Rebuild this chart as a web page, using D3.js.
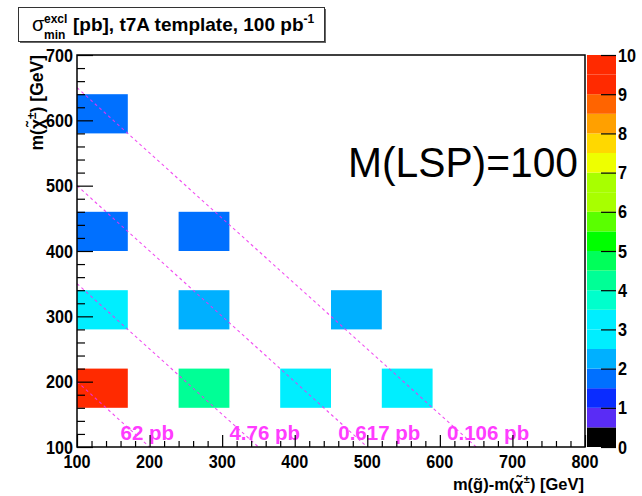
<!DOCTYPE html>
<html>
<head>
<meta charset="utf-8">
<script src="https://cdn.jsdelivr.net/npm/d3@7"></script>
<style>
  html, body { margin: 0; padding: 0; background: #fff; }
  svg { display: block; }
  text { font-family: "Liberation Sans", Arial, Helvetica, sans-serif; }
</style>
</head>
<body>
<script>
// Histogram binning (GeV)
const xBinEdges = [100, 170, 240, 310, 380, 450, 520, 590, 660, 730, 800];
const yBinEdges = [100, 160, 220, 280, 340, 400, 460, 520, 580, 640, 700];

// Filled cells: lower bin edges and minimum excluded cross section [pb]
const cellXLow = [100, 240, 380, 520, 100, 240, 450, 100, 240, 100];
const cellYLow = [160, 160, 160, 160, 280, 280, 280, 400, 400, 580];
const sigmaMin = [9.6, 4.2, 3.0, 3.0, 3.0, 2.2, 2.2, 1.8, 1.8, 1.8];

// Iso-gluino-mass reference lines and their cross sections
const gluinoMass = [300, 450, 600, 750];
const xsecLabels = ["62 pb", "4.76 pb", "0.617 pb", "0.106 pb"];

// Axis ticks
const xTicks = [100, 200, 300, 400, 500, 600, 700, 800];
const yTicks = [100, 200, 300, 400, 500, 600, 700];
const zTicks = [0, 1, 2, 3, 4, 5, 6, 7, 8, 9, 10];

// Colour contours (20 levels over 0..10)
const zLevels = [0.5, 1, 1.5, 2, 2.5, 3, 3.5, 4, 4.5, 5, 5.5, 6, 6.5, 7, 7.5, 8, 8.5, 9, 9.5];
const zColors = ["#000000", "#5a2cf5", "#0a2cff", "#0070ff", "#00b0ff", "#00eeff", "#00eeff",
                 "#00ffcc", "#00ff96", "#00ff5a", "#00ff00", "#5aff00", "#a8ff00", "#a8ff00",
                 "#eeff00", "#ffd800", "#ffa000", "#ff6400", "#ff2a00", "#ff2a00"];

const W = 642, H = 496;
const plot = { left: 77, right: 585, top: 55, bottom: 447 };

const svg = d3.select("body").append("svg").attr("width", W).attr("height", H);
svg.append("rect").attr("width", W).attr("height", H).attr("fill", "#fff");

const x = d3.scaleLinear().domain([100, 800]).range([plot.left, plot.right]);
const y = d3.scaleLinear().domain([100, 700]).range([plot.bottom, plot.top]);
const color = d3.scaleThreshold().domain(zLevels).range(zColors);

const binW = xBinEdges[1] - xBinEdges[0];
const binH = yBinEdges[1] - yBinEdges[0];

// Cells
const cells = sigmaMin.map((v, i) => ({ x0: cellXLow[i], y0: cellYLow[i], v }));
svg.append("g").selectAll("rect").data(cells).join("rect")
  .attr("x", d => x(d.x0))
  .attr("y", d => y(d.y0 + binH))
  .attr("width", d => x(d.x0 + binW) - x(d.x0))
  .attr("height", d => y(d.y0) - y(d.y0 + binH))
  .attr("fill", d => color(d.v));

// Iso-mass dashed lines
svg.append("g").selectAll("line").data(gluinoMass).join("line")
  .attr("x1", m => x(100)).attr("y1", m => y(m - 100))
  .attr("x2", m => x(m - 100)).attr("y2", m => y(100))
  .attr("stroke", "#f030f0").attr("stroke-width", 1.1)
  .attr("stroke-dasharray", "3,3").attr("opacity", 0.85);

// Cross-section labels
svg.append("g").selectAll("text").data(gluinoMass).join("text")
  .attr("x", m => x(m - 140)).attr("y", y(110))
  .attr("font-size", 20.5).attr("font-weight", "bold").attr("fill", "#ff3cff")
  .text((m, i) => xsecLabels[i]);

// Axes (ROOT style: ticks pointing inward)
const xAxis = d3.axisTop(x).tickValues(d3.range(100, 801, 20)).tickSize(6).tickFormat("");
const gx = svg.append("g").attr("transform", `translate(0,${plot.bottom})`).call(xAxis);
gx.selectAll(".tick line").filter(d => xTicks.includes(d)).attr("y2", -12);
const yAxis = d3.axisRight(y).tickValues(d3.range(100, 701, 20)).tickSize(8).tickFormat("");
const gy = svg.append("g").attr("transform", `translate(${plot.left},0)`).call(yAxis);
gy.selectAll(".tick line").filter(d => yTicks.includes(d)).attr("x2", 16);
svg.selectAll(".domain").remove();
svg.selectAll(".tick line").attr("stroke", "#000").attr("stroke-width", 1.2);

// Frame
svg.append("rect")
  .attr("x", plot.left).attr("y", plot.top)
  .attr("width", plot.right - plot.left).attr("height", plot.bottom - plot.top)
  .attr("fill", "none").attr("stroke", "#000").attr("stroke-width", 1.5);

// Tick labels
svg.append("g").selectAll("text").data(xTicks).join("text")
  .attr("transform", d => `translate(${x(d)},468) scale(0.9,1)`)
  .attr("text-anchor", "middle").attr("font-size", 18).attr("font-weight", "bold")
  .text(d => d);
svg.append("g").selectAll("text").data(yTicks).join("text")
  .attr("transform", d => `translate(73,${y(d) + 6.5}) scale(0.9,1)`)
  .attr("text-anchor", "end").attr("font-size", 18).attr("font-weight", "bold")
  .text(d => d);

// Axis titles
const xt = svg.append("text").attr("x", 584).attr("y", 490)
  .attr("text-anchor", "end").attr("font-size", 16.5).attr("font-weight", "bold");
xt.append("tspan").text("m(g\u0303)-m(\u03c7\u0303");
xt.append("tspan").attr("dy", -7).attr("font-size", 11).text("\u00b1");
xt.append("tspan").attr("dy", 7).text(") [GeV]");

const yt = svg.append("text").attr("transform", "translate(43,55) rotate(-90)")
  .attr("text-anchor", "end").attr("font-size", 17.5).attr("font-weight", "bold");
yt.append("tspan").text("m(\u03c7\u0303");
yt.append("tspan").attr("dy", -7).attr("font-size", 12).text("\u00b1");
yt.append("tspan").attr("dy", 7).text(") [GeV]");

// Colour bar
const bar = { left: 587, right: 616 };
const z = d3.scaleLinear().domain([0, 10]).range([plot.bottom, plot.top]);
const bandEdges = [0].concat(zLevels, [10]);
svg.append("g").selectAll("rect").data(zColors).join("rect")
  .attr("x", bar.left).attr("width", bar.right - bar.left)
  .attr("y", (c, i) => z(bandEdges[i + 1]))
  .attr("height", (c, i) => z(bandEdges[i]) - z(bandEdges[i + 1]))
  .attr("fill", c => c);
const zAxis = d3.axisLeft(z).tickValues(zTicks).tickSize(15).tickFormat("");
const gz = svg.append("g").attr("transform", `translate(${bar.right},0)`).call(zAxis);
gz.select(".domain").remove();
gz.selectAll(".tick line").attr("stroke", "#000").attr("stroke-width", 1.2);
svg.append("g").selectAll("text").data(zTicks).join("text")
  .attr("transform", d => `translate(618,${z(d) + 6.5}) scale(0.9,1)`)
  .attr("font-size", 18).attr("font-weight", "bold")
  .text(d => d);

// Title box
svg.append("rect").attr("x", 20).attr("y", 9).attr("width", 306).attr("height", 34).attr("fill", "#666");
svg.append("rect").attr("x", 18.5).attr("y", 7.5).attr("width", 306).attr("height", 34)
  .attr("fill", "#fff").attr("stroke", "#333").attr("stroke-width", 1);
svg.append("text").attr("x", 32).attr("y", 31).attr("font-size", 20)
  .attr("font-family", "'DejaVu Sans', sans-serif").text("\u03c3");
svg.append("text").attr("x", 44).attr("y", 23).attr("font-size", 12).attr("font-weight", "bold").text("excl");
svg.append("text").attr("x", 44).attr("y", 39).attr("font-size", 12).attr("font-weight", "bold").text("min");
const tt = svg.append("text").attr("x", 73).attr("y", 31).attr("font-size", 19).attr("font-weight", "bold");
tt.append("tspan").text("[pb], t7A template, 100 pb");
tt.append("tspan").attr("dy", -8).attr("font-size", 12).text("-1");

// Annotation
svg.append("text").attr("x", 348).attr("y", 177)
  .attr("font-family", "Lato, 'Open Sans', sans-serif").attr("font-size", 42)
  .attr("textLength", 230).attr("lengthAdjust", "spacingAndGlyphs")
  .text("M(LSP)=100");
</script>
</body>
</html>
